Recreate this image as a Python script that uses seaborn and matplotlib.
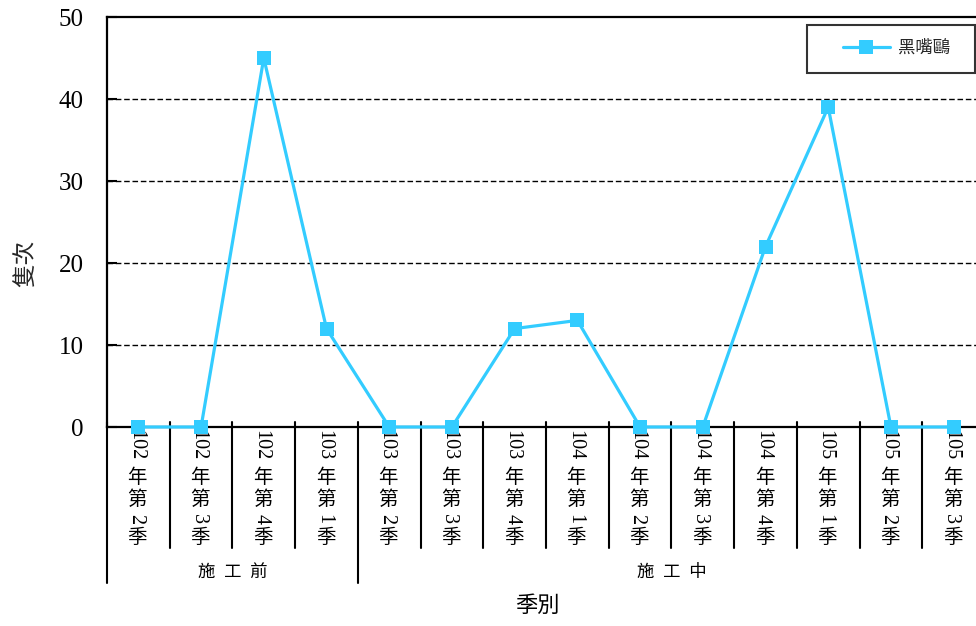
import matplotlib
matplotlib.use("Agg")
import matplotlib.pyplot as plt
from matplotlib.lines import Line2D
from matplotlib.legend_handler import HandlerLine2D
import seaborn as sns
import pandas as pd

# ---- data ----
categories = ["102年第2季", "102年第3季", "102年第4季", "103年第1季", "103年第2季",
              "103年第3季", "103年第4季", "104年第1季", "104年第2季", "104年第3季",
              "104年第4季", "105年第1季", "105年第2季", "105年第3季"]
counts = [0, 0, 45, 12, 0, 0, 12, 13, 0, 0, 22, 39, 0, 0]
series_name = "黑嘴鷗"
groups = ["施工前", "施工中"]
group_sizes = [4, 10]
y_ticks = [0, 10, 20, 30, 40, 50]
y_label = "隻次"
x_label = "季別"

sns.set_theme(style="white")
plt.rcParams['font.family'] = ['Liberation Serif', 'Noto Sans CJK TC', 'DejaVu Sans']

df = pd.DataFrame({"idx": range(len(categories)), "count": counts, "series": series_name})

fig = plt.figure(figsize=(9.76, 6.26), dpi=100)
ax = fig.add_axes([107 / 976, 199 / 626, 878 / 976, 410 / 626])

color = "#33CCFF"
sns.lineplot(data=df, x="idx", y="count", hue="series", palette=[color], marker="s",
             markersize=9.5, markeredgewidth=0, linewidth=2.3, ax=ax, zorder=5, clip_on=False)

ax.set_xlim(-0.5, len(categories) - 0.5)
ax.set_ylim(0, 50)
ax.set_yticks(y_ticks)
ax.set_yticklabels([str(v) for v in y_ticks], fontsize=18)
ax.set_xticks([])
ax.set_xlabel("")
ax.set_ylabel(y_label, fontsize=17, family=['Noto Sans CJK TC'])
ax.yaxis.set_label_coords(-0.078, 0.40)
ax.tick_params(axis='y', direction='in', length=7, width=1.5, pad=17, colors='black', left=True)

for v in y_ticks[1:-1]:
    ax.axhline(v, color='black', lw=1.0, ls=(0, (4, 2)), zorder=1)

for s in ['left', 'bottom', 'top', 'right']:
    ax.spines[s].set_color('black')
    ax.spines[s].set_linewidth(1.6)
    ax.spines[s].set_visible(True)

trans = ax.get_xaxis_transform()
# category separators
bounds = [0]
for g in group_sizes:
    bounds.append(bounds[-1] + g)
for i in range(len(categories)):
    xb = i - 0.5
    if i in bounds:
        ax.plot([xb, xb], [0.012, -0.38], transform=trans, color='black', lw=1.5, clip_on=False)
    else:
        ax.plot([xb, xb], [0.012, -0.295], transform=trans, color='black', lw=1.5, clip_on=False)

# stacked vertical category labels
for i, lab in enumerate(categories):
    year = lab[:3]
    q = lab[5]
    parts = [(year, 18, -90, 14.5, -3), ("年", 51, 0, 14, -1), ("第", 73, 0, 14, -1),
             (q, 92, -90, 14.5, -3), ("季", 111, 0, 14, -1)]
    for txt, off, rot, fs, dx in parts:
        ax.annotate(txt, xy=(i, 0), xycoords=trans, xytext=(dx, -off), textcoords='offset pixels',
                    ha='center', va='center', rotation=rot, fontsize=fs, color='black',
                    annotation_clip=False)

# group labels
start = 0
for g, n in zip(groups, group_sizes):
    center = start + (n - 1) / 2
    ax.text(center, -0.356, "  ".join(g), transform=trans, ha='center', va='center',
            fontsize=12.5, color='black')
    start += n

fig.text(537 / 976, 1 - 607 / 626, x_label, ha='center', va='center', fontsize=16, color='black')

# legend
handles, labels = ax.get_legend_handles_labels()
leg = ax.legend(handles, labels, loc='upper left',
                bbox_to_anchor=(807 / 976, 1 - 72 / 626, 168 / 976, 47 / 626), mode='expand',
                bbox_transform=fig.transFigure, frameon=True, fancybox=False, fontsize=12.5,
                handlelength=3.9, handletextpad=0.45, borderpad=0.9, borderaxespad=0,
                handler_map={Line2D: HandlerLine2D(xpad=1.15, numpoints=1)})
leg.get_frame().set_edgecolor('black')
leg.get_frame().set_linewidth(1.5)
leg.get_frame().set_boxstyle('square', pad=0)

fig.savefig("out.png", dpi=100)
